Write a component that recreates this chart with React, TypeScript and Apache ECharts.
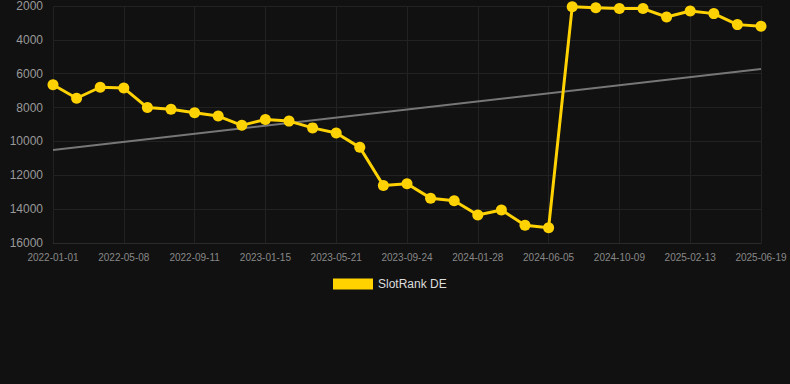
import React, { useEffect, useRef } from "react";
import * as echarts from "echarts";

const categories = [
  "2022-01-01", "2022-02-12", "2022-03-26", "2022-05-08", "2022-06-19", "2022-07-31",
  "2022-09-11", "2022-10-23", "2022-12-04", "2023-01-15", "2023-02-26", "2023-04-09",
  "2023-05-21", "2023-07-02", "2023-08-13", "2023-09-24", "2023-11-05", "2023-12-17",
  "2024-01-28", "2024-03-10", "2024-04-22", "2024-06-05", "2024-07-17", "2024-08-28",
  "2024-10-09", "2024-11-20", "2025-01-01", "2025-02-13", "2025-03-27", "2025-05-08",
  "2025-06-19",
];

const rankValues = [
  6650, 7450, 6800, 6850, 8000, 8100, 8300, 8500, 9050, 8700, 8800, 9200,
  9500, 10350, 12600, 12500, 13350, 13500, 14350, 14050, 14950, 15100,
  2050, 2100, 2150, 2150, 2650, 2300, 2450, 3100, 3200,
];

const trendStart = 10500;
const trendEnd = 5720;

const yTicks = { min: 2000, max: 16000, interval: 2000 };

export default function App() {
  const ref = useRef<HTMLDivElement>(null);
  useEffect(() => {
    document.body.style.margin = "0";
    document.body.style.background = "#111111";
    if (!ref.current) return;
    const chart = echarts.init(ref.current, undefined, { renderer: "svg" });
    chart.setOption({
      animation: false,
      backgroundColor: "#111111",
      grid: { left: 53, right: 29, top: 6, bottom: 141 },
      legend: {
        data: ["SlotRank DE"],
        top: 273,
        left: 328,
        itemWidth: 40,
        itemHeight: 11,
        icon: "rect",
        textStyle: { color: "#dddddd", fontSize: 12, fontFamily: "Liberation Sans, Arial, sans-serif" },
      },
      xAxis: {
        type: "category",
        data: categories,
        boundaryGap: false,
        axisLine: { show: true, lineStyle: { color: "#2a2a2a" } },
        axisTick: { show: false },
        axisLabel: {
          interval: 2,
          color: "#888888",
          fontSize: 10,
          margin: 9,
          fontFamily: "Liberation Sans, Arial, sans-serif",
        },
        splitLine: { show: true, interval: 2, lineStyle: { color: "#222222", width: 1 } },
      },
      yAxis: {
        type: "value",
        inverse: true,
        min: yTicks.min,
        max: yTicks.max,
        interval: yTicks.interval,
        axisLine: { show: false },
        axisTick: { show: false },
        axisLabel: {
          color: "#999999",
          fontSize: 12,
          margin: 10,
          formatter: (v: number) => String(v),
          fontFamily: "Liberation Sans, Arial, sans-serif",
        },
        splitLine: { show: true, lineStyle: { color: "#222222", width: 1 } },
      },
      series: [
        {
          name: "SlotRank DE",
          type: "line",
          data: rankValues,
          itemStyle: { color: "#FFD200" },
          lineStyle: { color: "#FFD200", width: 3 },
          symbol: "circle",
          symbolSize: 11,
          z: 3,
        },
        {
          name: "Trend",
          type: "line",
          data: [
            [0, trendStart],
            [categories.length - 1, trendEnd],
          ],
          symbol: "none",
          lineStyle: { color: "#777777", width: 2 },
          itemStyle: { color: "#777777" },
          z: 2,
        },
      ],
    });
    return () => chart.dispose();
  }, []);
  return <div ref={ref} style={{ width: 790, height: 384 }} />;
}
